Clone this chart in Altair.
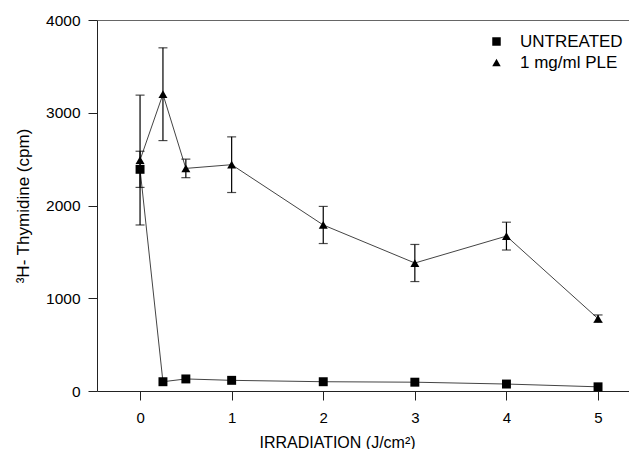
import altair as alt
import pandas as pd

# ---- data ----
irradiation = [0, 0.25, 0.5, 1, 2, 3, 4, 5]
untreated = [2390, 100, 130, 115, 100, 95, 75, 45]
untreated_err = [195, 0, 0, 0, 0, 0, 0, 0]
ple = [2490, 3200, 2400, 2440, 1790, 1380, 1670, 780]
ple_err = [700, 500, 100, 300, 200, 200, 150, 40]
series_names = ["UNTREATED", "1 mg/ml PLE"]
x_ticks = [0, 1, 2, 3, 4, 5]
y_ticks = [0, 1000, 2000, 3000, 4000]

rows = []
for name, vals, errs in [(series_names[0], untreated, untreated_err),
                         (series_names[1], ple, ple_err)]:
    for x, v, e in zip(irradiation, vals, errs):
        rows.append({"series": name, "x": x, "y": v, "err": e,
                     "lo": v - e, "hi": v + e})
df = pd.DataFrame(rows)
err_df = df[df["err"] > 0]
caps = pd.concat([
    err_df[["series", "x", "lo"]].rename(columns={"lo": "c"}),
    err_df[["series", "x", "hi"]].rename(columns={"hi": "c"}),
])

FONT = "Liberation Sans"

xscale = alt.Scale(domain=[-0.47, 5.338], nice=False, zero=False)
yscale = alt.Scale(domain=[0, 4000], nice=False)

xaxis = alt.Axis(values=x_ticks, title="IRRADIATION (J/cm²)", grid=False,
                 tickSize=9, labelPadding=10, labelFontSize=15, labelFont=FONT,
                 titleFontSize=16, titleFont=FONT, titleFontWeight="normal",
                 titleX=240, titleY=56, titleBaseline="alphabetic",
                 domainColor="#222", tickColor="#222", labelColor="black",
                 titleColor="black", format="d")
yaxis = alt.Axis(values=y_ticks, title="³H- Thymidine (cpm)", grid=False,
                 tickSize=9, labelPadding=8, labelFontSize=15.5, labelFont=FONT,
                 titleFontSize=17, titleFont=FONT, titleFontWeight="normal",
                 titleX=-69, titleBaseline="alphabetic",
                 domainColor="#222", tickColor="#222", labelColor="black",
                 titleColor="black", format="d")
top_axis = alt.Axis(orient="top", labels=False, ticks=False, title=None,
                    grid=False, domainColor="#666")

base = alt.Chart(df)

frame = base.mark_point(opacity=0).encode(
    x=alt.X("x:Q", scale=xscale, axis=top_axis),
)

lines = base.mark_line(color="#444", strokeWidth=1).encode(
    x=alt.X("x:Q", scale=xscale, axis=xaxis),
    y=alt.Y("y:Q", scale=yscale, axis=yaxis),
    detail="series:N",
)

bars = alt.Chart(err_df).mark_rule(color="black", strokeWidth=1.2).encode(
    x=alt.X("x:Q", scale=xscale, axis=None),
    y=alt.Y("lo:Q", scale=yscale, axis=yaxis),
    y2="hi:Q",
)

cap_marks = alt.Chart(caps).mark_tick(orient="horizontal", size=9,
                                      thickness=1.2, color="black").encode(
    x=alt.X("x:Q", scale=xscale, axis=None),
    y=alt.Y("c:Q", scale=yscale, axis=yaxis),
)

points = base.mark_point(filled=True, opacity=1, size=80,
                         color="black").encode(
    x=alt.X("x:Q", scale=xscale, axis=None),
    y=alt.Y("y:Q", scale=yscale, axis=yaxis),
    shape=alt.Shape("series:N",
                    scale=alt.Scale(domain=series_names,
                                    range=["square", "triangle-up"]),
                    legend=alt.Legend(orient="none", legendX=391, legendY=13,
                                      title=None, labelFontSize=17,
                                      labelFont=FONT, labelColor="black",
                                      symbolSize=72, symbolFillColor="black",
                                      symbolStrokeColor="black",
                                      symbolStrokeWidth=0, labelOffset=15,
                                      rowPadding=3, padding=0)),
)

chart = alt.layer(frame, lines, bars, cap_marks, points).resolve_axis(
    x="independent"
).resolve_scale(x="shared", y="shared").properties(
    width=532, height=371,
    autosize=alt.AutoSizeParams(type="none"),
    padding={"left": 89, "top": 12, "right": 0, "bottom": 58},
    background="white",
).configure_view(stroke=None)

chart.save("out.html", embed_options={"renderer": "svg", "actions": False})
